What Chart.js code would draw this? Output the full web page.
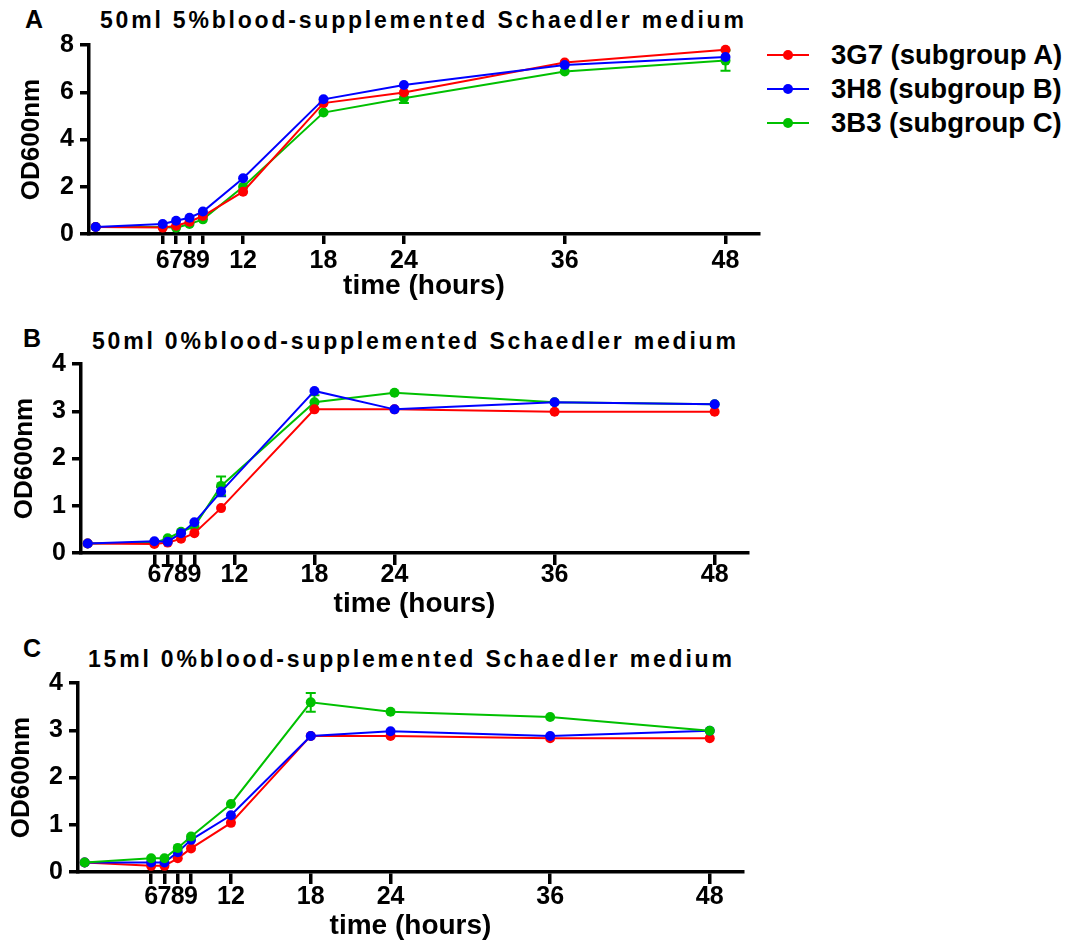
<!DOCTYPE html>
<html>
<head>
<meta charset="utf-8">
<script src="https://cdn.jsdelivr.net/npm/chart.js@4.4.0/dist/chart.umd.min.js"></script>
<style>
  body { margin: 0; background: #fff; width: 1066px; height: 941px; position: relative; overflow: hidden;
         font-family: "Liberation Sans", Arial, sans-serif; font-weight: bold; color: #000; }
  canvas { position: absolute; left: 0; }
  .title { position: absolute; font-size: 23px; line-height: 23px; letter-spacing: 2.8px; white-space: nowrap; }
  .letter { position: absolute; font-size: 25px; line-height: 25px; }
  .lg-line { position: absolute; height: 2px; width: 42px; left: 767px; }
  .lg-dot { position: absolute; width: 10px; height: 10px; border-radius: 50%; left: 783px; }
  .lg-text { position: absolute; left: 831px; font-size: 27.5px; line-height: 34px; white-space: nowrap; }
</style>
</head>
<body>
<div class="letter" style="left:25px;top:7px">A</div>
<div class="title" style="left:100px;top:9px">50ml 5%blood-supplemented Schaedler medium</div>
<div class="letter" style="left:23px;top:326px">B</div>
<div class="title" style="left:92px;top:330px">50ml 0%blood-supplemented Schaedler medium</div>
<div class="letter" style="left:23px;top:636px">C</div>
<div class="title" style="left:88px;top:648px">15ml 0%blood-supplemented Schaedler medium</div>
<div id="legend"></div>

<canvas id="chartA" width="780" height="310" style="top:0px"></canvas>
<canvas id="chartB" width="780" height="320" style="top:310px"></canvas>
<canvas id="chartC" width="780" height="320" style="top:630px"></canvas>

<script>
// series names and colours
var names = ["3G7 (subgroup A)", "3H8 (subgroup B)", "3B3 (subgroup C)"];
var colors = ["#ff0000", "#0000ff", "#00c000"];
var xTicks = [6, 7, 8, 9, 12, 18, 24, 36, 48];

// panel A: 50ml 5% blood
var hoursA = [1, 6, 7, 8, 9, 12, 18, 24, 36, 48];
var redA   = [0.30, 0.27, 0.35, 0.52, 0.76, 1.79, 5.54, 5.99, 7.26, 7.80];
var blueA  = [0.30, 0.42, 0.56, 0.69, 0.95, 2.36, 5.70, 6.31, 7.15, 7.49];
var greenA = [0.30, 0.30, 0.27, 0.42, 0.62, 2.00, 5.14, 5.75, 6.88, 7.34];
var greenErrA = [0, 0, 0, 0, 0, 0, 0, 0.2, 0, 0.43];

// panel B: 50ml 0% blood
var hoursB = [1, 6, 7, 8, 9, 11, 18, 24, 36, 48];
var redB   = [0.20, 0.19, 0.22, 0.30, 0.42, 0.95, 3.04, 3.04, 2.99, 2.99];
var blueB  = [0.20, 0.25, 0.24, 0.42, 0.65, 1.30, 3.43, 3.04, 3.19, 3.15];
var greenB = [0.20, 0.22, 0.31, 0.45, 0.56, 1.42, 3.19, 3.39, 3.19, 3.15];
var blueErrB  = [0, 0, 0, 0, 0, 0.1, 0, 0, 0, 0];
var greenErrB = [0, 0, 0, 0, 0, 0.2, 0.15, 0, 0, 0];

// panel C: 15ml 0% blood
var hoursC = [1, 6, 7, 8, 9, 12, 18, 24, 36, 48];
var redC   = [0.20, 0.13, 0.13, 0.29, 0.50, 1.04, 2.88, 2.88, 2.83, 2.83];
var blueC  = [0.20, 0.20, 0.20, 0.42, 0.68, 1.20, 2.88, 2.98, 2.88, 2.99];
var greenC = [0.20, 0.29, 0.29, 0.51, 0.75, 1.44, 3.59, 3.39, 3.28, 2.99];
var greenErrC = [0, 0, 0, 0, 0, 0, 0.2, 0, 0, 0];

Chart.defaults.font.family = '"Liberation Sans", Arial, sans-serif';
Chart.defaults.font.weight = 'bold';
Chart.defaults.color = '#000';

// legend
var legend = document.getElementById('legend');
names.forEach(function (n, i) {
  var y = 55 + i * 34;
  legend.innerHTML +=
    '<div class="lg-line" style="top:' + (y - 1) + 'px;background:' + colors[i] + '"></div>' +
    '<div class="lg-dot" style="top:' + (y - 5) + 'px;background:' + colors[i] + '"></div>' +
    '<div class="lg-text" style="top:' + (y - 17) + 'px">' + n + '</div>';
});

// vertical error bars with caps, drawn under the lines
var errorBars = {
  id: 'errorBars',
  beforeDatasetsDraw: function (chart) {
    var ctx = chart.ctx, xs = chart.scales.x, ys = chart.scales.y;
    chart.data.datasets.forEach(function (ds) {
      if (!ds.errors) return;
      ctx.save();
      ctx.strokeStyle = ds.borderColor;
      ctx.lineWidth = 2;
      ds.data.forEach(function (p, i) {
        var e = ds.errors[i];
        if (!e) return;
        var px = xs.getPixelForValue(p.x);
        var t = ys.getPixelForValue(p.y + e), b = ys.getPixelForValue(p.y - e);
        ctx.beginPath();
        ctx.moveTo(px, t); ctx.lineTo(px, b);
        ctx.moveTo(px - 5, t); ctx.lineTo(px + 5, t);
        ctx.moveTo(px - 5, b); ctx.lineTo(px + 5, b);
        ctx.stroke();
      });
      ctx.restore();
    });
  }
};

function series(hours, vals, i, order, errs) {
  return {
    label: names[i],
    data: hours.map(function (h, k) { return { x: h, y: vals[k] }; }),
    borderColor: colors[i],
    backgroundColor: colors[i],
    borderWidth: 2,
    pointRadius: 5,
    pointBorderWidth: 0,
    pointBackgroundColor: colors[i],
    order: order,
    errors: errs,
    clip: false
  };
}

function makePanel(id, datasets, p) {
  var canvas = document.getElementById(id);
  var W = canvas.width, H = canvas.height;
  return new Chart(canvas, {
    type: 'line',
    data: { datasets: datasets },
    plugins: [errorBars],
    options: {
      responsive: false,
      animation: false,
      layout: { padding: { left: 0, top: p.top, right: W - p.right, bottom: 0 } },
      plugins: { legend: { display: false }, tooltip: { enabled: false } },
      scales: {
        x: {
          type: 'linear', min: 0.5, max: 50.5,
          afterBuildTicks: function (s) { s.ticks = xTicks.map(function (v) { return { value: v }; }); },
          afterFit: function (s) { s.height = H - p.bottom; },
          border: { display: true, color: '#000', width: 3.5 },
          grid: { drawOnChartArea: false, drawTicks: true, tickLength: p.xTickLen, color: '#000', lineWidth: 3.5 },
          ticks: { autoSkip: false, maxRotation: 0, color: '#000', font: { size: 25, weight: 'bold' }, padding: p.xPad },
          title: { display: true, text: 'time (hours)', color: '#000', font: { size: 28, weight: 'bold' },
                   padding: { top: 0, bottom: H - p.bottom - p.xTitleOff - 16.8 } }
        },
        y: {
          min: 0, max: p.yMax,
          afterFit: function (s) { s.width = p.left; },
          border: { display: true, color: '#000', width: 3.5 },
          grid: { drawOnChartArea: false, drawTicks: true, tickLength: 9, color: '#000', lineWidth: 3.5 },
          ticks: { stepSize: p.yStep, color: '#000', font: { size: 25, weight: 'bold' }, padding: 6 },
          title: { display: true, text: 'OD600nm', color: '#000', font: { size: 26, weight: 'bold' },
                   padding: { top: p.yTitleX - 15.6, bottom: 0 } }
        }
      }
    }
  });
}

makePanel('chartA', [
  series(hoursA, redA, 0, 2),
  series(hoursA, blueA, 1, 1),
  series(hoursA, greenA, 2, 3, greenErrA)
], { left: 89, right: 759, top: 45, bottom: 234, yMax: 8, yStep: 2, xTickLen: 10, xPad: 2, xTitleOff: 52, yTitleX: 32 });

makePanel('chartB', [
  series(hoursB, redB, 0, 2),
  series(hoursB, blueB, 1, 1, blueErrB),
  series(hoursB, greenB, 2, 3, greenErrB)
], { left: 81, right: 748, top: 54, bottom: 243, yMax: 4, yStep: 1, xTickLen: 12, xPad: -5, xTitleOff: 51, yTitleX: 25 });

makePanel('chartC', [
  series(hoursC, redC, 0, 3),
  series(hoursC, blueC, 1, 2),
  series(hoursC, greenC, 2, 1, greenErrC)
], { left: 78, right: 743, top: 53, bottom: 242, yMax: 4, yStep: 1, xTickLen: 12, xPad: -2, xTitleOff: 54, yTitleX: 22 });
</script>
</body>
</html>
